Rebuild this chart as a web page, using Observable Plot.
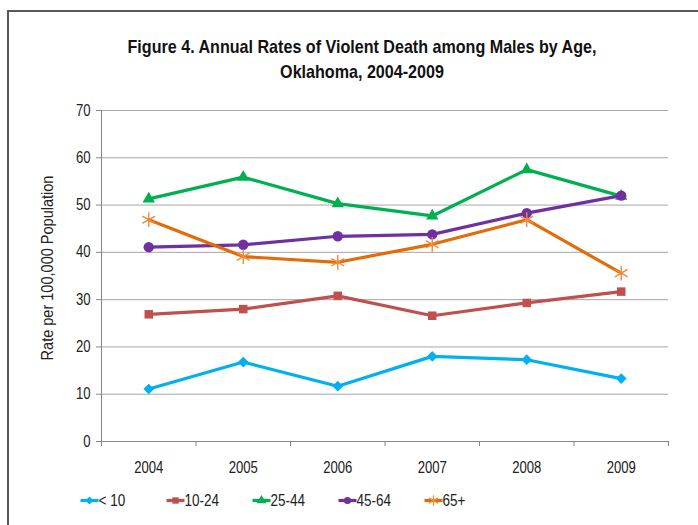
<!DOCTYPE html>
<html><head><meta charset="utf-8">
<script src="https://cdn.jsdelivr.net/npm/d3@7"></script>
<script src="https://cdn.jsdelivr.net/npm/@observablehq/plot@0.6"></script>
<style>
body{margin:0;background:#fff;overflow:hidden}
#wrap{position:relative;width:698px;height:525px;font-family:"Liberation Sans",Arial,sans-serif;color:#111}
#frame{position:absolute;left:7px;top:10px;width:700px;height:530px;border-left:2px solid #595959;border-top:2px solid #595959;box-sizing:border-box}
#title{position:absolute;left:362px;top:34px;transform:translateX(-50%) scaleX(0.87);white-space:nowrap;text-align:center;font-weight:bold;font-size:18.5px;line-height:25px}
#chart{position:absolute;left:0;top:0}
#legend{position:absolute;left:0;top:470px}
#ytitle{position:absolute;left:47px;top:268px;transform:translate(-50%,-50%) rotate(-90deg) scaleX(0.88);white-space:nowrap;font-size:16.5px;color:#222}
</style></head>
<body><div id="wrap"><div id="frame"></div><div id="chart"></div><div id="legend"></div>
<div id="title">Figure 4. Annual Rates of Violent Death among Males by Age,<br>Oklahoma, 2004-2009</div>
<div id="ytitle">Rate per 100,000 Population</div></div>
<script>
const years = [2004, 2005, 2006, 2007, 2008, 2009];
const seriesNames = ["< 10", "10-24", "25-44", "45-64", "65+"];
const under10   = [11.1, 16.8, 11.7, 18.0, 17.3, 13.3];
const age10to24 = [26.9, 28.0, 30.8, 26.6, 29.3, 31.7];
const age25to44 = [51.3, 55.9, 50.3, 47.7, 57.5, 51.9];
const age45to64 = [41.1, 41.6, 43.4, 43.8, 48.3, 52.0];
const age65plus = [46.9, 39.1, 37.9, 41.7, 46.9, 35.6];
const yTicks = [0, 10, 20, 30, 40, 50, 60, 70];

const seriesValues = [under10, age10to24, age25to44, age45to64, age65plus];
const colors = ["#00B0F0", "#C0504D", "#00B050", "#7030A0", "#E36C09"];
const symbols = ["diamond2", "square", "triangle", "circle", "asterisk"];
const radii = [4.8, 4.8, 4.6, 5.2, 7];

const font = '"Liberation Sans",Arial,sans-serif';
const boundaries = [years[0] - 0.5, ...years.map(y => y + 0.5)];

function condense(svg, k) {
  svg.querySelectorAll("text").forEach(t => {
    const x = +(t.getAttribute("x") || 0);
    const tr = t.getAttribute("transform") || "";
    t.setAttribute("transform", `${tr} translate(${x},0) scale(${k},1) translate(${-x},0)`);
  });
}

const marks = [
  Plot.gridY(yTicks, {stroke: "#A6A6A6", strokeOpacity: 1, strokeWidth: 1}),
  Plot.ruleX([boundaries[0]], {y1: 0, y2: yTicks[yTicks.length - 1], stroke: "#868686"}),
  Plot.ruleY([0], {stroke: "#868686"}),
  Plot.axisY({ticks: yTicks, tickSize: 5, tickPadding: 6, stroke: "#868686", fontSize: 16, fill: "#222", label: null}),
  Plot.axisX({ticks: years, tickFormat: d => String(d), tickSize: 0, tickPadding: 20, fontSize: 16, fill: "#222", label: null}),
  Plot.axisX({ticks: boundaries, tickFormat: () => "", tickSize: 5, stroke: "#868686", label: null})
];

seriesValues.forEach((vals, k) => {
  const data = years.map((yr, i) => ({year: yr, value: vals[i]}));
  marks.push(Plot.line(data, {x: "year", y: "value", stroke: colors[k], strokeWidth: 3.2}));
  if (symbols[k] === "asterisk") {
    marks.push(Plot.dot(data, {x: "year", y: "value", symbol: "asterisk", r: radii[k], stroke: "#F08A3A", strokeWidth: 1.4}));
  } else {
    marks.push(Plot.dot(data, {x: "year", y: "value", symbol: symbols[k], r: radii[k], fill: colors[k], stroke: "none"}));
  }
});

const chart = Plot.plot({
  width: 698, height: 470,
  marginLeft: 101, marginRight: 30, marginTop: 110, marginBottom: 29,
  style: {fontFamily: font, background: "transparent", overflow: "visible"},
  x: {type: "linear", domain: [boundaries[0], boundaries[boundaries.length - 1]], axis: null},
  y: {domain: [0, 70], axis: null},
  marks
});
condense(chart, 0.82);
document.getElementById("chart").append(chart);

const hline = {draw(context, size) { context.rect(-9, -1.6, 18, 3.2); }};
const legendData = seriesNames.map((name, k) => ({name, color: colors[k], symbol: symbols[k], r: radii[k]}));
const legendMarks = [Plot.dot(legendData, {x: "name", frameAnchor: "middle", symbol: () => hline, r: 5, fill: "color", stroke: "none"})];
legendData.forEach(d => {
  if (d.symbol === "asterisk") legendMarks.push(Plot.dot([d], {x: "name", frameAnchor: "middle", symbol: "asterisk", r: 5, stroke: "#F08A3A", strokeWidth: 1.2}));
  else legendMarks.push(Plot.dot([d], {x: "name", frameAnchor: "middle", symbol: d.symbol, r: 3.6, fill: d.color, stroke: "none"}));
});
legendMarks.push(Plot.text(legendData, {x: "name", frameAnchor: "middle", text: "name", dx: 9, textAnchor: "start", fontSize: 16.5, fill: "#222"}));

const legend = Plot.plot({
  width: 698, height: 55, marginTop: 5, marginBottom: 0, marginLeft: 0, marginRight: 0,
  style: {fontFamily: font, background: "transparent", overflow: "visible"},
  x: {type: "point", domain: seriesNames, range: [88, 434], padding: 0, axis: null},
  symbol: {type: "identity"},
  marks: legendMarks
});
condense(legend, 0.82);
document.getElementById("legend").append(legend);
</script></body></html>
